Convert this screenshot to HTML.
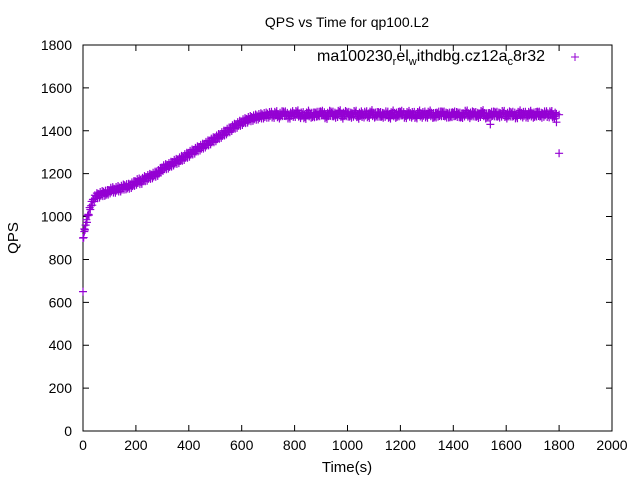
<!DOCTYPE html>
<html><head><meta charset="utf-8"><style>
body{margin:0;background:#fff;}
svg text{font-family:"Liberation Sans",sans-serif;fill:#000;}
</style></head><body>
<svg id="chart" width="640" height="480">
<text x="347" y="27" font-size="14" text-anchor="middle">QPS vs Time for qp100.L2</text>
<g id="axes"></g>
<g id="marks"></g>
<g>
<text x="545" y="61" font-size="16" text-anchor="end">ma100230<tspan font-size="11" dy="4">r</tspan><tspan dy="-4">el</tspan><tspan font-size="11" dy="4">w</tspan><tspan dy="-4">ithdbg.cz12a</tspan><tspan font-size="11" dy="4">c</tspan><tspan dy="-4">8r32</tspan></text>
<path d="M571 57h8M575 53v8" stroke="#9400d3" stroke-width="1"/>
</g>
<text x="347" y="472" font-size="15" text-anchor="middle">Time(s)</text>
<text x="18" y="238" font-size="15" text-anchor="middle" transform="rotate(-90 18 238)">QPS</text>
</svg>
<script>
const xTicks=[0,200,400,600,800,1000,1200,1400,1600,1800,2000];
const yTicks=[0,200,400,600,800,1000,1200,1400,1600,1800];
const timeStep=10;
const qps=[900,960,1010,1050,1080,1095,1100,1105,1110,1108,1120,
1125,1122,1130,1128,1135,1140,1138,1145,1150,1160,
1165,1162,1175,1178,1185,1190,1195,1200,1210,1225,
1230,1235,1240,1250,1255,1260,1268,1275,1283,1290,
1298,1305,1312,1320,1325,1333,1340,1348,1355,1362,
1370,1378,1385,1395,1400,1410,1418,1425,1432,1438,
1445,1450,1455,1458,1462,1465,1468,1470,1472,1473,
1478,1470,1482,1468,1476,1485,1472,1466,1480,1474,
1486,1470,1477,1464,1483,1475,1469,1481,1472,1487,
1476,1465,1479,1484,1471,1474,1488,1467,1478,1482,
1470,1476,1485,1466,1479,1473,1481,1469,1486,1475,
1472,1483,1468,1477,1480,1465,1484,1474,1471,1487,
1476,1469,1482,1473,1478,1466,1485,1472,1479,1470,
1484,1475,1467,1481,1474,1486,1470,1477,1468,1483,
1473,1480,1465,1478,1485,1471,1476,1482,1469,1474,
1487,1472,1466,1479,1475,1483,1470,1477,1484,1468,
1476,1481,1473,1467,1485,1474,1478,1470,1482,1475,
1471,1486,1469,1477,1480,1473,1484,1466,1479,1295];
const extraTimes=[0,5,1540,1790,1800];
const extraQps=[650,930,1430,1440,1475];
const X0=83,X1=612,Y0=431,Y1=45;
const sx=v=>X0+(v-0)/(2000-0)*(X1-X0);
const sy=v=>Y0-(v-0)/(1800-0)*(Y0-Y1);
const NS="http://www.w3.org/2000/svg";
const axes=document.getElementById('axes'),marks=document.getElementById('marks');
function mk(tag,attrs,parent){const e=document.createElementNS(NS,tag);for(const k in attrs)e.setAttribute(k,attrs[k]);parent.appendChild(e);return e;}
const frame=mk('rect',{x:X0,y:Y1,width:X1-X0,height:Y0-Y1,fill:'none',stroke:'#000','stroke-width':1},axes);


xTicks.forEach(t=>{const x=sx(t);
const tk=mk('path',{d:`M${x} ${Y0}v-6M${x} ${Y1}v6`,stroke:'#000'},axes);


const lb=mk('text',{x:x,y:Y0+19,'font-size':14,'text-anchor':'middle'},axes);lb.textContent=t;

});
yTicks.forEach(t=>{const y=sy(t);
const tk=mk('path',{d:`M${X0} ${y}h6M${X1} ${y}h-6`,stroke:'#000'},axes);


const lb=mk('text',{x:X0-11,y:y+5,'font-size':14,'text-anchor':'end'},axes);lb.textContent=t;

});
function plus(t,v){const x=sx(t),y=sy(v);
const p=mk('path',{d:`M${x-4} ${y}h8M${x} ${y-4}v8`,stroke:'#9400d3','stroke-width':1.2},marks);

}
qps.forEach((v,i)=>{plus(i*timeStep,v);
if(i+2<qps.length){const nv=qps[i+1];
plus(i*timeStep+2.5,v+(nv-v)/4+((i%2)?13:-13));
plus(i*timeStep+5,v+(nv-v)/2+((i%2)?-12:12));
plus(i*timeStep+7.5,v+3*(nv-v)/4+((i%2)?7:-7));}});
extraTimes.forEach((t,i)=>plus(t,extraQps[i]));
</script>
</body></html>
